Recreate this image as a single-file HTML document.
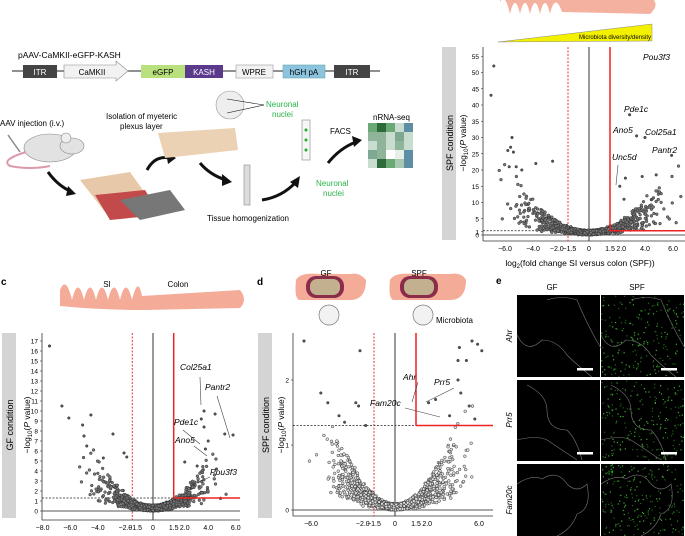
<!DOCTYPE html>
<html><head><meta charset="utf-8"><style>
body{margin:0;background:#fff}
svg{display:block;font-family:"Liberation Sans",sans-serif}
</style></head><body>
<svg id="s" width="685" height="536" viewBox="0 0 685 536" xmlns="http://www.w3.org/2000/svg">
<text x="18" y="58" font-size="8.5">pAAV-CaMKII-eGFP-KASH</text>
<line x1="12" y1="71" x2="380" y2="71" stroke="#222" stroke-width="1"/>
<rect x="23" y="65" width="34" height="13" fill="#444"/><text x="40" y="75" font-size="8" fill="#fff" text-anchor="middle">ITR</text>
<path d="M64 65 H116 V61 L128 71 L116 81 V78 H64 Z" fill="#f2f2f2" stroke="#888" stroke-width=".6"/><text x="92" y="75" font-size="8" text-anchor="middle">CaMKII</text>
<rect x="141" y="65" width="44" height="13" fill="#b8e07c"/><text x="163" y="75" font-size="8" text-anchor="middle">eGFP</text>
<rect x="185" y="65" width="38" height="13" fill="#5b3a8c"/><text x="204" y="75" font-size="8" fill="#fff" text-anchor="middle">KASH</text>
<rect x="236" y="65" width="37" height="13" fill="#f2f2f2" stroke="#999" stroke-width=".6"/><text x="254" y="75" font-size="8" text-anchor="middle">WPRE</text>
<rect x="283" y="65" width="42" height="13" fill="#8cc4de" stroke="#6aa" stroke-width=".6"/><text x="304" y="75" font-size="8" text-anchor="middle">hGH pA</text>
<rect x="334" y="65" width="36" height="13" fill="#444"/><text x="352" y="75" font-size="8" fill="#fff" text-anchor="middle">ITR</text>
<text x="0" y="126" font-size="8">AAV injection (i.v.)</text>
<ellipse cx="50" cy="148" rx="26" ry="14" fill="#e2e2e2" stroke="#888" stroke-width=".6"/>
<ellipse cx="72" cy="146" rx="12" ry="8" fill="#e2e2e2" stroke="#888" stroke-width=".6"/>
<circle cx="66" cy="138" r="5" fill="#eee" stroke="#888" stroke-width=".6"/>
<path d="M26 152 Q0 160 10 166 Q30 170 50 166" fill="none" stroke="#d9a" stroke-width="2"/>
<line x1="8" y1="135" x2="20" y2="152" stroke="#888" stroke-width="1.5"/>
<path d="M48 172 Q58 186 72 192" fill="none" stroke="#111" stroke-width="3"/><polygon points="68,186 76,194 66,196" fill="#111"/>
<path d="M80 180 L130 172 L150 200 L105 212 Z" fill="#e7c9a9"/>
<path d="M95 195 L145 190 L160 215 L110 220 Z" fill="#c34a4a"/>
<path d="M120 200 L170 190 L185 210 L140 220 Z" fill="#777"/>
<path d="M147 170 Q155 155 170 158" fill="none" stroke="#111" stroke-width="3"/><polygon points="166,152 176,158 168,164" fill="#111"/>
<text x="106" y="119" font-size="8">Isolation of myeteric</text><text x="120" y="129" font-size="8">plexus layer</text>
<path d="M158 133 L235 128 L238 150 L165 158 Z" fill="#ecd2b4"/>
<circle cx="230" cy="105" r="14" fill="#eee" stroke="#999" stroke-width=".6"/>
<text x="266" y="107" font-size="8" fill="#2bb34a">Neuronal</text><text x="272" y="117" font-size="8" fill="#2bb34a">nuclei</text>
<line x1="227" y1="99" x2="264" y2="105" stroke="#111" stroke-width=".6"/><line x1="227" y1="113" x2="264" y2="105" stroke="#111" stroke-width=".6"/>
<path d="M200 163 Q210 175 226 180" fill="none" stroke="#111" stroke-width="3"/><polygon points="222,174 232,182 222,186" fill="#111"/>
<rect x="244" y="165" width="6" height="40" fill="#ddd" stroke="#888" stroke-width=".6"/>
<text x="207" y="221" font-size="8">Tissue homogenization</text>
<path d="M262 200 Q282 197 296 182" fill="none" stroke="#111" stroke-width="3"/><polygon points="290,182 300,176 298,188" fill="#111"/>
<rect x="302" y="120" width="8" height="40" fill="#f6f6f6" stroke="#888" stroke-width=".6"/>
<circle cx="306" cy="130" r="1.5" fill="#2a2"/><circle cx="306" cy="140" r="1.5" fill="#2a2"/><circle cx="306" cy="150" r="1.5" fill="#2a2"/>
<text x="316" y="186" font-size="8" fill="#2bb34a">Neuronal</text><text x="323" y="196" font-size="8" fill="#2bb34a">nuclei</text>
<text x="330" y="134" font-size="8">FACS</text>
<path d="M328 163 Q340 148 356 142" fill="none" stroke="#111" stroke-width="3"/><polygon points="352,136 362,140 354,147" fill="#111"/>
<text x="373" y="120" font-size="8">nRNA-seq</text>
<g id="hm"></g>
<path d="M500 2 Q505 -8 510 14 Q515 -8 520 14 Q525 -8 530 14 Q535 -8 540 14 Q545 -8 550 14 Q555 -8 562 12 L650 14 Q660 5 652 -2 L500 -2 Z" fill="#f4b1a0"/>
<polygon points="498,42 652,24 652,41" fill="#f3f000" stroke="#888" stroke-width=".5"/>
<text x="615" y="39" font-size="6" text-anchor="middle">Microbiota diversity/density</text>
<rect x="442" y="47" width="14" height="193" fill="#d4d4d4"/>
<text transform="translate(453,143) rotate(-90)" font-size="9" text-anchor="middle">SPF condition</text>
<text transform="translate(466,143) rotate(-90)" font-size="8.5" text-anchor="middle">−log<tspan font-size="6" dy="2">10</tspan><tspan dy="-2">(</tspan><tspan font-style="italic">P</tspan> value)</text>
<g id="b"></g>
<text x="580" y="266" font-size="8.5" text-anchor="middle">log<tspan font-size="6" dy="2">2</tspan><tspan dy="-2">(fold change SI versus colon (SPF))</tspan></text>
<text x="1" y="285" font-size="10" font-weight="bold">c</text>
<path d="M60 290 Q66 275 72 300 Q78 275 84 300 Q90 275 96 300 Q102 275 108 300 Q114 275 120 300 Q126 275 132 300 Q138 275 142 296 L240 290 Q248 300 240 308 L145 310 Q100 310 60 306 Z" fill="#f4ab98"/>
<text x="107" y="287" font-size="8" text-anchor="middle">SI</text><text x="178" y="287" font-size="8" text-anchor="middle">Colon</text>
<rect x="2" y="333" width="14" height="185" fill="#d4d4d4"/>
<text transform="translate(13,425) rotate(-90)" font-size="9" text-anchor="middle">GF condition</text>
<text transform="translate(30,425) rotate(-90)" font-size="8.5" text-anchor="middle">−log<tspan font-size="6" dy="2">10</tspan><tspan dy="-2">(</tspan><tspan font-style="italic">P</tspan> value)</text>
<g id="c"></g>
<text x="257" y="285" font-size="10" font-weight="bold">d</text>
<path d="M296 280 Q300 272 320 274 L350 274 Q360 272 366 280 Q366 300 350 300 L300 300 Q294 300 296 280 Z" fill="#f4ab98"/>
<path d="M390 280 Q394 272 414 274 L450 274 Q462 272 466 280 Q466 300 450 300 L394 300 Q388 300 390 280 Z" fill="#f4ab98"/>
<rect x="306" y="276" width="38" height="22" rx="10" fill="#8a2c4a"/><rect x="310" y="279" width="30" height="16" rx="7" fill="#c2b08e"/>
<rect x="400" y="276" width="38" height="22" rx="10" fill="#8a2c4a"/><rect x="404" y="279" width="30" height="16" rx="7" fill="#c2b08e"/>
<circle cx="329" cy="315" r="10" fill="#f2f2f2" stroke="#777" stroke-width=".7"/>
<circle cx="423" cy="315" r="10" fill="#f2f2f2" stroke="#777" stroke-width=".7"/>
<text x="326" y="276" font-size="8" text-anchor="middle">GF</text><text x="419" y="276" font-size="8" text-anchor="middle">SPF</text>
<text x="436" y="323" font-size="8">Microbiota</text>
<rect x="258" y="333" width="14" height="185" fill="#d4d4d4"/>
<text transform="translate(269,425) rotate(-90)" font-size="9" text-anchor="middle">SPF condition</text>
<text transform="translate(284,425) rotate(-90)" font-size="8.5" text-anchor="middle">−log<tspan font-size="6" dy="2">10</tspan><tspan dy="-2">(</tspan><tspan font-style="italic">P</tspan> value)</text>
<g id="d"></g>
<text x="496" y="284" font-size="10" font-weight="bold">e</text>
<text x="552" y="290" font-size="8" text-anchor="middle">GF</text><text x="637" y="290" font-size="8" text-anchor="middle">SPF</text>
<text transform="translate(512,336) rotate(-90)" font-size="8" font-style="italic" text-anchor="middle">Ahr</text>
<text transform="translate(512,420) rotate(-90)" font-size="8" font-style="italic" text-anchor="middle">Prr5</text>
<text transform="translate(512,500) rotate(-90)" font-size="8" font-style="italic" text-anchor="middle">Fam20c</text>
<g id="e"></g>
</svg>
<script>
var NS="http://www.w3.org/2000/svg",seed=7;
function r(){seed=(seed*16807)%2147483647;return (seed-1)/2147483646;}
function g(){return (r()+r()+r()+r()-2)*0.9;}
function el(p,t,a,txt){var e=document.createElementNS(NS,t);for(var k in a)e.setAttribute(k,a[k]);if(txt!=null)e.textContent=txt;document.getElementById(p).appendChild(e);return e;}
var hc=["#6aa874","#2f6a3a","#6aa874","#c8dcd0","#5d8ea4","#8fb49a","#8fb49a","#c8dcd0","#7fa893","#c8dcd0","#c8dcd0","#8fb49a","#c8dcd0","#8fb49a","#c8dcd0","#7fa893","#8fb49a","#fff","#e8efe8","#5d8ea4","#c8dcd0","#2f6a3a","#6aa874","#a8c8b4","#5d8ea4"];
for(var i=0;i<25;i++)el("hm","rect",{x:368+(i%5)*9,y:123+Math.floor(i/5)*9,width:9,height:9,fill:hc[i]});
function volcano(id,o){
 var X=function(v){return o.x0+v*o.sx},Y=function(v){return o.y0-v*o.sy};
 el(id,"line",{x1:o.ax,y1:o.top,x2:o.ax,y2:o.bot,stroke:"#333","stroke-width":.8});
 el(id,"line",{x1:o.ax,y1:o.bot,x2:o.right,y2:o.bot,stroke:"#333","stroke-width":.8});
 o.yt.forEach(function(t){el(id,"text",{x:o.ax-4,y:Y(t)+2.5,"font-size":6.5,"text-anchor":"end"},String(t));el(id,"line",{x1:o.ax-2,y1:Y(t),x2:o.ax,y2:Y(t),stroke:"#333","stroke-width":.6});});
 o.xt.forEach(function(t){el(id,"text",{x:X(t[0]),y:o.bot+10,"font-size":7,"text-anchor":"middle"},t[1]);});
 el(id,"line",{x1:o.ax,y1:Y(0),x2:o.right,y2:Y(0),stroke:"#555","stroke-width":1});
 el(id,"line",{x1:X(0),y1:o.top,x2:X(0),y2:o.bot,stroke:"#333","stroke-width":1});
 el(id,"line",{x1:X(-1.5),y1:o.top,x2:X(-1.5),y2:o.bot,stroke:"#e33","stroke-width":1,"stroke-dasharray":"2,1.5"});
 el(id,"line",{x1:o.ax,y1:Y(o.th),x2:X(1.5),y2:Y(o.th),stroke:"#222","stroke-width":.8,"stroke-dasharray":"2,1.5"});
 for(var i=0;i<o.n;i++){var x=g()*o.spread;var y=x*x*o.k*(0.15+r()*1.0)+r()*o.noise;
  if(y>o.ymax*0.4&&r()<0.7)continue;
  var px=X(x),py=Y(y);if(px<o.ax+3||px>o.right-2||py<o.top)continue;
  el(id,"circle",{cx:px,cy:py,r:1.4,fill:o.fill,stroke:"#333","stroke-width":.5});}
 o.extra.forEach(function(p){el(id,"circle",{cx:X(p[0]),cy:Y(p[1]),r:1.3,fill:"#555",stroke:"#333","stroke-width":.5});});
 el(id,"line",{x1:X(1.5),y1:o.top,x2:X(1.5),y2:Y(o.th),stroke:"#e22","stroke-width":1.5});
 el(id,"line",{x1:X(1.5),y1:Y(o.th),x2:o.right,y2:Y(o.th),stroke:"#e22","stroke-width":1.5});
 o.labels.forEach(function(l){el(id,"text",{x:l[0],y:l[1],"font-size":8.5,"font-style":"italic"},l[2]);if(l[3])el(id,"line",{x1:l[3],y1:l[4],x2:l[5],y2:l[6],stroke:"#444","stroke-width":.6});});
}
volcano("b",{x0:589,sx:14,y0:235,sy:3.25,ax:483,top:47,bot:241,right:685,th:1.3,n:1100,spread:4.2,k:0.55,noise:1.5,ymax:55,fill:"#777",
 yt:[0,1,5,10,15,20,25,30,35,40,45,50,55],xt:[[-6,"−6.0"],[-4,"−4.0"],[-2.3,"−2.0"],[-1.4,"−1.5"],[0,"0"],[1.5,"1.5"],[2.3,"2.0"],[4,"4.0"],[6,"6.0"]],
 extra:[[-6.8,52],[-7,43],[-5.5,30],[-5.6,27],[-5.4,25.5],[-5.8,26],[-3.8,22],[-2.6,22.7],[-5.2,21],[-5.7,21],[-4.8,20],[2.9,37],[3.4,30.5],[4,30],[5.9,24.5],[2.2,15],[2.6,17.5],[3.8,18],[4.8,18.5],[4.5,11],[2.5,11],[7,55]],
 labels:[[643,60,"Pou3f3"],[624,112,"Pde1c"],[613,133,"Ano5"],[645,135,"Col25a1"],[652,153,"Pantr2"],[612,160,"Unc5d",618,165,616,185]]});
volcano("c",{x0:153,sx:13.8,y0:511,sy:10,ax:42,top:333,bot:520,right:240,th:1.3,n:1000,spread:3.6,k:0.28,noise:0.6,ymax:17,fill:"#777",
 yt:[0,1,2,3,4,5,6,7,8,9,10,11,12,13,14,15,16,17],xt:[[-8,"−8.0"],[-6,"−6.0"],[-4,"−4.0"],[-2,"−2.0"],[-1.3,"−1.5"],[0,"0"],[1.5,"1.5"],[2.3,"2.0"],[4,"4.0"],[6,"6.0"]],
 extra:[[-7.5,16.5],[-6.6,10.5],[-6.1,9.3],[-4.5,9.6],[-5.1,8.6],[-2.9,7.7],[3.7,10],[3.5,9.2],[4.5,9.7],[3.7,8.4],[4,7],[5.2,7.7],[5.8,7.6],[3.8,6.2],[-5,7.5],[-4.8,6.5],[-3.6,5.3],[-2.1,5.8],[-1.9,5.4],[2.3,4.9],[3.2,4.5],[4.6,4.2]],
 labels:[[180,370,"Col25a1",200,377,201,405],[205,390,"Pantr2",217,396,230,438],[174,425,"Pde1c",183,430,200,444],[175,443,"Ano5",194,446,207,456],[210,475,"Pou3f3",210,477,192,485]]});
volcano("d",{x0:395,sx:14,y0:510,sy:65,ax:293,top:333,bot:516,right:493,th:1.3,n:1600,spread:4,k:0.06,noise:0.1,ymax:2.6,fill:"#ddd",
 yt:[0,1,2],xt:[[-6,"−6.0"],[-2.3,"−2.0"],[-1.5,"−1.5"],[0,"0"],[1.5,"1.5"],[2.3,"2.0"],[6,"6.0"]],
 extra:[[-6.5,2.6],[-2.5,2.45],[-5.3,1.8],[-4.8,1.65],[-2.8,1.65],[-2.6,1.6],[4.6,2.5],[5.5,2.6],[5.9,2.55],[6.2,2.45],[4.5,2.3],[5.1,2.3],[4.5,2],[2.4,1.65],[2.9,1.7],[4.7,1.8],[5.3,1.6],[3.9,1.45],[5.7,1.4],[-4,1.45],[-3.6,1.35],[-2.1,1.3]],
 labels:[[403,380,"Ahr",418,382,412,402],[434,385,"Prr5",454,388,426,402],[370,406,"Fam20c",405,408,440,417]]});
var rows=[295,380,464],hs=[82,81,72];
var lines=["M30 5 Q45 0 60 5 Q70 30 85 55 Q90 70 85 82 M0 40 Q10 60 25 45 Q40 45 50 60 Q60 70 75 82","M10 5 Q30 15 30 30 Q30 50 50 50 Q60 60 65 80 M0 60 Q20 55 30 60 Q45 70 60 80","M0 20 Q15 10 25 15 Q40 5 50 20 Q60 30 70 20 Q75 45 60 50 Q55 65 40 72"];
rows.forEach(function(y,ri){
 [517,601].forEach(function(x,ci){
  el("e","rect",{x:x,y:y,width:83,height:hs[ri],fill:"#000"});
  el("e","path",{d:lines[ri],transform:"translate("+x+","+y+")",fill:"none",stroke:"#777","stroke-width":.6});
  if(ci==1)for(var k=0;k<220;k++)el("e","rect",{x:x+r()*82,y:y+r()*(hs[ri]-1),width:1.2,height:1.2,fill:r()<.6?"#1f6a18":"#3fb032"});
  if(ri<2)el("e","rect",{x:x+60,y:y+hs[ri]-9,width:16,height:2.5,fill:"#fff"});
 });
});
</script>
</body></html>
